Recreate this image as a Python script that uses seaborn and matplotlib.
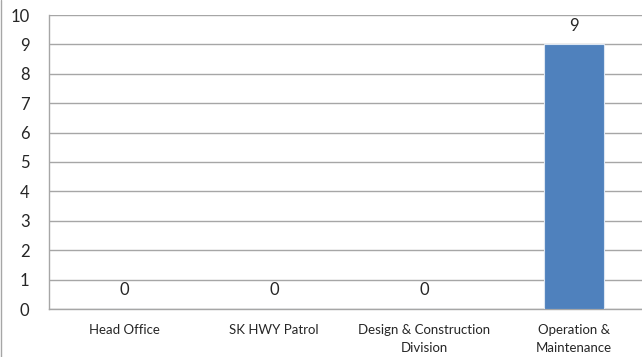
import matplotlib
matplotlib.use("Agg")
import matplotlib.pyplot as plt
import seaborn as sns
import pandas as pd
from matplotlib.lines import Line2D

categories = ["Head Office", "SK HWY Patrol", "Design & Construction\nDivision", "Operation &\nMaintenance"]
values = [0, 0, 0, 9]
y_ticks = list(range(0, 11))

sns.set_style("white")
plt.rcParams["font.family"] = ["Lato", "DejaVu Sans"]

df = pd.DataFrame({"division": categories, "count": values})

fig = plt.figure(figsize=(6.42, 3.57), dpi=100)
# plot area runs slightly past the right edge of the image, as in the reference
ax = fig.add_axes([49 / 642, 1 - 309 / 357, 600 / 642, (309 - 15) / 357])

sns.barplot(data=df, x="division", y="count", color="#4F81BD", saturation=1,
            width=0.4, edgecolor="#DCE6F2", linewidth=0.8, ax=ax, zorder=3)

ax.set_ylim(0, 10)
ax.set_yticks(y_ticks)
ax.set_xlim(-0.5, len(categories) - 0.5)
ax.yaxis.grid(True, color="#A6A6A6", linewidth=1.0, zorder=0)
ax.set_axisbelow(True)
ax.set_xlabel("")
ax.set_ylabel("")
ax.tick_params(axis="y", labelsize=12, length=0, pad=14)
ax.tick_params(axis="x", labelsize=9.5, length=0, pad=11)
for lbl in ax.get_xticklabels():
    lbl.set_linespacing(1.6)
for side in ["top", "right"]:
    ax.spines[side].set_visible(False)
for side in ["left", "bottom"]:
    ax.spines[side].set_color("#A6A6A6")
    ax.spines[side].set_linewidth(1.0)

for i, v in enumerate(values):
    ax.annotate(str(v), (i, v), xytext=(0, 13.5), textcoords="offset points",
                ha="center", va="center", fontsize=12)

fig.add_artist(Line2D([1.5 / 642, 1.5 / 642], [0, 1], color="#A6A6A6", linewidth=1.0))

fig.savefig("out.png", dpi=100)
